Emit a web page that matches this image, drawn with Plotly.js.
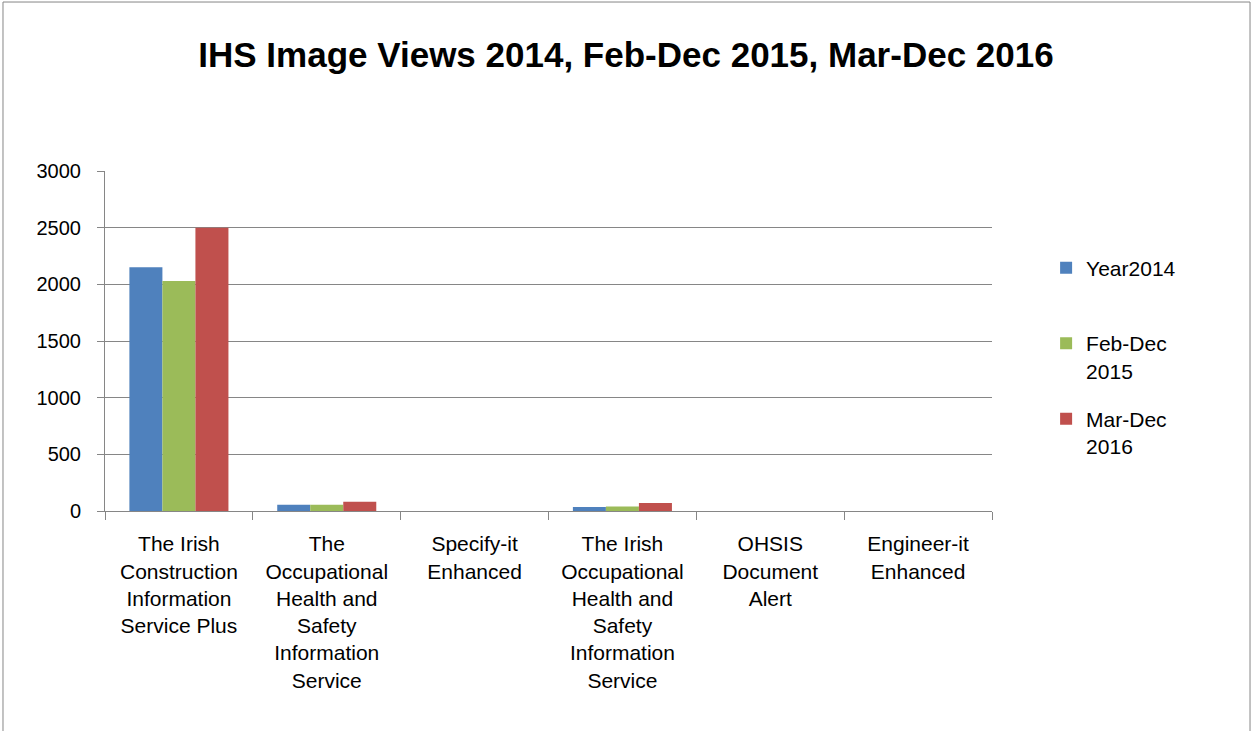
<!DOCTYPE html>
<html><head><meta charset="utf-8">
<script src="https://cdn.plot.ly/plotly-3.0.1.min.js"></script>
<style>html,body{margin:0;padding:0;background:#fff}</style>
</head><body>
<div id="chart" style="width:1252px;height:731px"></div>
<script>
const categories = [
  "The Irish<br>Construction<br>Information<br>Service Plus",
  "The<br>Occupational<br>Health and<br>Safety<br>Information<br>Service",
  "Specify-it<br>Enhanced",
  "The Irish<br>Occupational<br>Health and<br>Safety<br>Information<br>Service",
  "OHSIS<br>Document<br>Alert",
  "Engineer-it<br>Enhanced"
];
const seriesNames = ["Year2014<br>\u00a0", "Feb-Dec<br>2015", "Mar-Dec<br>2016"];
const year2014 = [2150, 55, 0, 35, 0, 0];
const febDec2015 = [2030, 55, 0, 40, 0, 0];
const marDec2016 = [2500, 82, 0, 70, 0, 0];
const colors = ["#4F81BD", "#9BBB59", "#C0504D"];
const yTicks = [0, 500, 1000, 1500, 2000, 2500, 3000];

const values = [year2014, febDec2015, marDec2016];
const FONT = "Liberation Sans, Arial, sans-serif";
const traces = values.map((v, i) => ({
  type: "bar",
  x: categories,
  y: v,
  name: seriesNames[i],
  legendgroup: "g" + i,
  marker: {color: colors[i], line: {width: 0}},
  hoverinfo: "y"
}));

const layout = {
  width: 1252, height: 731,
  margin: {l: 105, r: 260, t: 171, b: 220},
  paper_bgcolor: "#fff", plot_bgcolor: "#fff",
  font: {family: FONT, size: 20, color: "#000"},
  title: {text: "<b>IHS Image Views 2014, Feb-Dec 2015, Mar-Dec 2016</b>",
          font: {family: FONT, size: 35, color: "#000"},
          x: 0.5, xanchor: "center", y: 0.925, yanchor: "middle"},
  barmode: "group",
  bargap: 0.33,
  bargroupgap: 0,
  xaxis: {
    type: "category",
    showline: true, linecolor: "#868686", linewidth: 1,
    ticks: "outside", tickson: "boundaries", ticklen: 8, tickcolor: "#868686",
    showgrid: false,
    tickfont: {family: FONT, size: 21, color: "#000"},
    ticklabelstandoff: 14,
    tickangle: 0,
    automargin: false
  },
  yaxis: {
    range: [0, 3000],
    tickvals: yTicks,
    ticktext: yTicks.map(String),
    showgrid: true, gridcolor: "#868686", gridwidth: 1,
    showline: true, linecolor: "#868686", linewidth: 1,
    ticks: "outside", ticklen: 7, tickcolor: "#868686",
    tickfont: {family: FONT, size: 20, color: "#000"},
    ticklabelstandoff: 12,
    zeroline: false,
    automargin: false
  },
  legend: {
    x: 1.061, xanchor: "left", y: 0.775, yanchor: "top",
    font: {family: FONT, size: 21, color: "#000"},
    valign: "top",
    tracegroupgap: 18,
    itemwidth: 30
  },
  shapes: [{
    type: "rect", xref: "paper", yref: "paper",
    x0: -0.115, x1: 1.2909, y0: -0.7, y1: 1.497,
    line: {color: "#868686", width: 1}, fillcolor: "rgba(0,0,0,0)", layer: "below"
  }],
  showlegend: true
};

Plotly.newPlot("chart", traces, layout, {displayModeBar: false, staticPlot: true});
</script>
</body></html>
